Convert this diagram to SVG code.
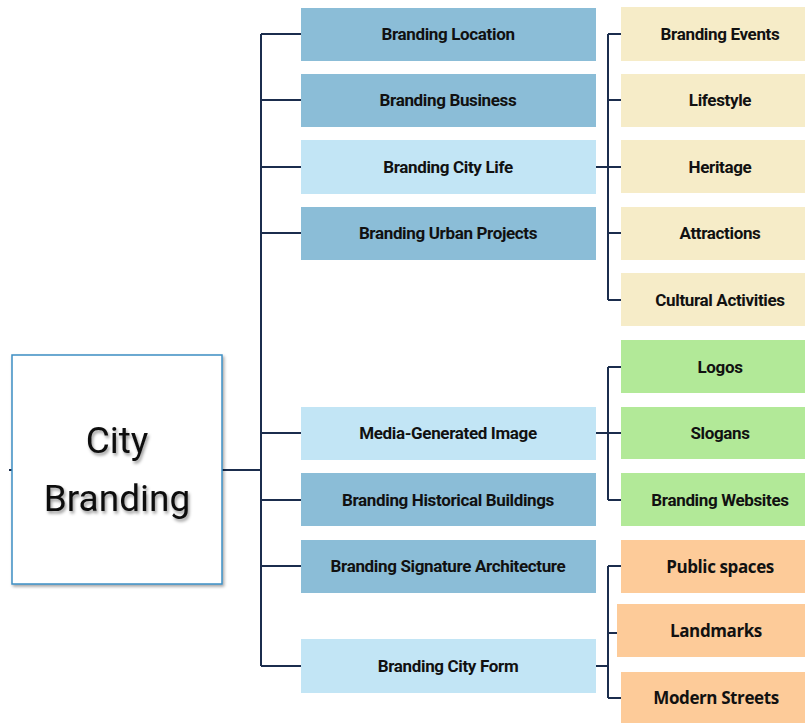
<svg xmlns="http://www.w3.org/2000/svg" width="805" height="723" viewBox="0 0 805 723">
<defs>
<filter id="sh" x="-10%" y="-10%" width="130%" height="130%">
<feDropShadow dx="1.5" dy="2" stdDeviation="1.5" flood-color="#000" flood-opacity="0.35"/>
</filter>
<filter id="tsh" x="-10%" y="-10%" width="130%" height="140%">
<feDropShadow dx="1.5" dy="2.5" stdDeviation="1.5" flood-color="#000" flood-opacity="0.4"/>
</filter>
<style>
.dk{fill:#8bbdd7}
.lt{fill:#c2e5f5}
.be{fill:#f6ecc8}
.gr{fill:#b2e998}
.or{fill:#fdcb99}
.t{font-family:Roboto,"Liberation Sans",sans-serif;font-weight:bold;font-size:17px;fill:#111;text-anchor:middle;letter-spacing:-0.35px}
.to{font-family:"Open Sans","Liberation Sans",sans-serif;font-weight:bold;font-size:17px;fill:#111;text-anchor:middle;letter-spacing:-0.4px}
.ln{fill:none;stroke:#1b2d4d;stroke-width:2}
</style>
</defs>
<rect width="805" height="723" fill="#fff"/>
<g id="connectors" class="ln">
<path d="M9 470H12M222 470H261M261 34V666M261 34H301M261 100H301M261 167H301M261 233H301M261 433H301M261 500H301M261 566H301M261 666H301"/>
<path d="M596 167H608M608 34V300M608 34H621M608 100H621M608 167H621M608 233H621M608 300H621"/>
<path d="M596 433H608M608 367V500M608 367H621M608 433H621M608 500H621"/>
<path d="M596 666H608M608 566V698M608 566H621M608 633H617M608 698H621"/>
</g>
<g id="city-branding">
<rect x="12" y="355" width="210" height="229" fill="#fff" stroke="#3d8fc4" stroke-width="1.5" filter="url(#sh)"/>
<g filter="url(#tsh)" font-family="Roboto,'Liberation Sans',sans-serif" font-size="37" fill="#111" text-anchor="middle">
<text x="117" y="453">City</text>
<text x="117" y="511">Branding</text>
</g>
</g>
<g id="branding-location"><rect class="dk" x="301" y="8" width="295" height="53"/><text class="t" x="448" y="40">Branding Location</text></g>
<g id="branding-business"><rect class="dk" x="301" y="74" width="295" height="53"/><text class="t" x="448" y="106">Branding Business</text></g>
<g id="branding-city-life"><rect class="lt" x="301" y="140" width="295" height="54"/><text class="t" x="448" y="173">Branding City Life</text></g>
<g id="branding-urban-projects"><rect class="dk" x="301" y="207" width="295" height="53"/><text class="t" x="448" y="239">Branding Urban Projects</text></g>
<g id="media-generated-image"><rect class="lt" x="301" y="407" width="295" height="53"/><text class="t" x="448" y="439">Media-Generated Image</text></g>
<g id="branding-historical-buildings"><rect class="dk" x="301" y="473" width="295" height="53"/><text class="t" x="448" y="506">Branding Historical Buildings</text></g>
<g id="branding-signature-architecture"><rect class="dk" x="301" y="540" width="295" height="53"/><text class="t" x="448" y="572">Branding Signature Architecture</text></g>
<g id="branding-city-form"><rect class="lt" x="301" y="639" width="295" height="54"/><text class="t" x="448" y="672">Branding City Form</text></g>
<g id="branding-events"><rect class="be" x="621" y="7" width="184" height="54"/><text class="t" x="720" y="40">Branding Events</text></g>
<g id="lifestyle"><rect class="be" x="621" y="74" width="184" height="53"/><text class="t" x="720" y="106">Lifestyle</text></g>
<g id="heritage"><rect class="be" x="621" y="140" width="184" height="53"/><text class="t" x="720" y="173">Heritage</text></g>
<g id="attractions"><rect class="be" x="621" y="207" width="184" height="53"/><text class="t" x="720" y="239">Attractions</text></g>
<g id="cultural-activities"><rect class="be" x="621" y="273" width="184" height="53"/><text class="t" x="720" y="306">Cultural Activities</text></g>
<g id="logos"><rect class="gr" x="621" y="340" width="184" height="53"/><text class="t" x="720" y="373">Logos</text></g>
<g id="slogans"><rect class="gr" x="621" y="407" width="184" height="52"/><text class="t" x="720" y="439">Slogans</text></g>
<g id="branding-websites"><rect class="gr" x="621" y="473" width="184" height="53"/><text class="t" x="720" y="506">Branding Websites</text></g>
<g id="public-spaces"><rect class="or" x="621" y="540" width="184" height="53"/><text class="to" x="720" y="573">Public spaces</text></g>
<g id="landmarks"><rect class="or" x="617" y="604" width="188" height="53"/><text class="to" x="716" y="637">Landmarks</text></g>
<g id="modern-streets"><rect class="or" x="621" y="672" width="184" height="51"/><text class="to" x="716" y="704">Modern Streets</text></g>
</svg>
